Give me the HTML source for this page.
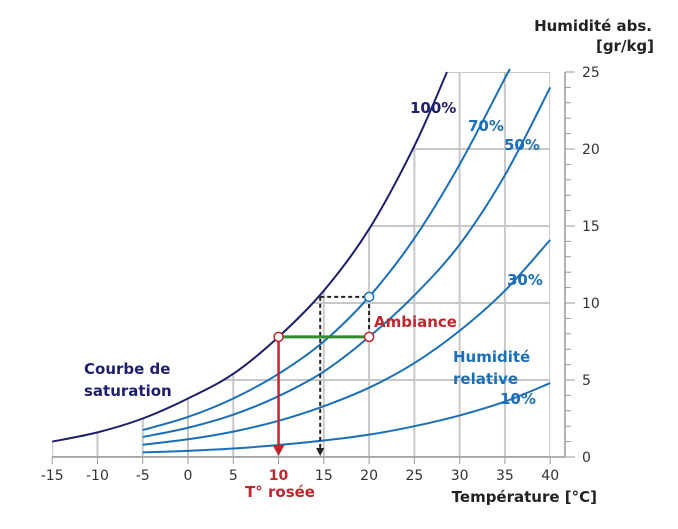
<!DOCTYPE html>
<html><head><meta charset="utf-8"><style>
body{margin:0;background:#fff;}
svg{display:block;font-family:"DejaVu Sans","Liberation Sans",sans-serif;}
</style></head><body>
<svg id="c" width="678" height="529"></svg>
<script>
const satT=[-15,-10,-5,0,5,10,15,20,25,28.6];
const satV=[1.0,1.6,2.5,3.8,5.4,7.8,10.8,14.8,20.2,25];
const rhT=[-5,0,5,10,15,20,25,30,35,40];
const rh70=[1.75,2.6,3.8,5.4,7.5,10.4,14.2,19.0,24.6,null];
const rh50=[1.3,1.9,2.75,3.95,5.55,7.8,10.5,13.8,18.3,24];
const rh30=[0.8,1.15,1.65,2.35,3.3,4.5,6.1,8.2,10.8,14.1];
const rh10=[0.3,0.4,0.55,0.78,1.07,1.45,2.0,2.7,3.6,4.8];
const xTicks=[-15,-10,-5,0,5,10,15,20,25,30,35,40];
const yTicks=[0,5,10,15,20,25];
const dewT=10, ambT=20, ambV=7.8, satAmbV=10.4, satAmbT=14.6;

const X=t=>188+t*9.055, Y=v=>457-v*15.4;
const svg=document.getElementById('c');const NS='http://www.w3.org/2000/svg';
function el(tag,a,name,parent){const e=document.createElementNS(NS,tag);for(const k in a)e.setAttribute(k,a[k]);


(parent||svg).appendChild(e);return e;}
function txt(x,y,s,name,st){const e=el('text',Object.assign({x:x,y:y},st),name);e.textContent=s;return e;}
function smooth(ts,vs){const p=[];ts.forEach((t,i)=>{if(vs[i]!=null)p.push([X(t),Y(vs[i])]);});
let d='M'+p[0][0]+','+p[0][1];for(let i=0;i<p.length-1;i++){const p0=p[Math.max(0,i-1)],p1=p[i],p2=p[i+1],p3=p[Math.min(p.length-1,i+2)];
d+=' C'+(p1[0]+(p2[0]-p0[0])/6)+','+(p1[1]+(p2[1]-p0[1])/6)+' '+(p2[0]-(p3[0]-p1[0])/6)+','+(p2[1]-(p3[1]-p1[1])/6)+' '+p2[0]+','+p2[1];}return d;}
const defs=el('defs',{},'defs');const cp=el('clipPath',{id:'cl'},'grid-clip',defs);
el('path',{d:smooth(satT,satV)+' L'+X(40)+','+Y(25)+' L'+X(40)+','+Y(0)+' L'+X(-15)+','+Y(0)+'Z'},'clip-shape',cp);
const g=el('g',{'clip-path':'url(#cl)'},'grid');
xTicks.forEach(t=>el('line',{x1:X(t),x2:X(t),y1:Y(0),y2:Y(25),stroke:'#c8c8c8','stroke-width':2},'grid-v',g));
yTicks.forEach(v=>el('line',{x1:X(-15),x2:565,y1:Y(v),y2:Y(v),stroke:'#c8c8c8','stroke-width':2},'grid-h',g));
el('line',{x1:X(-15),x2:565,y1:Y(0),y2:Y(0),stroke:'#999','stroke-width':1.5},'x-axis');
el('line',{x1:565,x2:565,y1:Y(0),y2:Y(25),stroke:'#999','stroke-width':1.5},'y-axis');
xTicks.forEach(t=>{el('line',{x1:X(t),x2:X(t),y1:Y(0),y2:Y(0)+7,stroke:'#999'},'x-tick');
 txt(X(t),480,String(t),'x-tick-label',{'text-anchor':'middle','font-size':14,fill:t===dewT?'#c0262d':'#333','font-weight':t===dewT?'bold':'normal'});});
for(let v=0;v<=25;v++)el('line',{x1:565,x2:v%5?571:575,y1:Y(v),y2:Y(v),stroke:'#999'},'y-tick');
yTicks.forEach(v=>txt(582,Y(v)+5,String(v),'y-tick-label',{'font-size':14,fill:'#333'}));
el('path',{d:smooth(satT,satV),fill:'none',stroke:'#1d1f6e','stroke-width':2},'saturation-curve');
[[rh70,'rh-70'],[rh50,'rh-50'],[rh30,'rh-30'],[rh10,'rh-10']].forEach(([a,n])=>{
 let ts=rhT,vs=a;if(n==='rh-70'){ts=rhT.slice(0,9).concat([35.4]);vs=a.slice(0,9).concat([25]);}
 el('path',{d:smooth(ts,vs),fill:'none',stroke:'#1a6fb8','stroke-width':2},n+'-curve');});
el('path',{d:'M'+X(satAmbT)+','+Y(satAmbV)+'H'+X(ambT)+'V'+Y(ambV),fill:'none',stroke:'#222','stroke-width':2,'stroke-dasharray':'4,3'},'dashed-horizontal');
el('line',{x1:X(satAmbT),x2:X(satAmbT),y1:Y(satAmbV),y2:Y(0)-8,stroke:'#222','stroke-width':2,'stroke-dasharray':'4,3'},'dashed-vertical');
el('path',{d:'M'+(X(satAmbT)-4)+','+(Y(0)-9)+'L'+(X(satAmbT)+4)+','+(Y(0)-9)+'L'+X(satAmbT)+','+(Y(0)-1)+'Z',fill:'#222'},'dashed-arrow');
el('line',{x1:X(dewT),x2:X(ambT),y1:Y(ambV),y2:Y(ambV),stroke:'#2e8b2e','stroke-width':3},'green-line');
el('line',{x1:X(dewT),x2:X(dewT),y1:Y(ambV),y2:Y(0)-10,stroke:'#c0262d','stroke-width':2.5},'dew-line');
el('path',{d:'M'+(X(dewT)-6)+','+(Y(0)-12)+'L'+(X(dewT)+6)+','+(Y(0)-12)+'L'+X(dewT)+','+(Y(0)-1)+'Z',fill:'#c0262d'},'dew-arrow');
el('circle',{cx:X(dewT),cy:Y(ambV),r:4.5,fill:'#fff',stroke:'#c0262d','stroke-width':1.5},'dew-point');
el('circle',{cx:X(ambT),cy:Y(ambV),r:4.5,fill:'#fff',stroke:'#c0262d','stroke-width':1.5},'ambiance-point');
el('circle',{cx:X(ambT),cy:Y(satAmbV),r:4.5,fill:'#fff',stroke:'#1a6fb8','stroke-width':1.5},'saturated-point');
const B={'font-size':15,'font-weight':'bold'};
txt(410,113,'100%','label-100',Object.assign({fill:'#1d1f6e'},B));
txt(468,131,'70%','label-70',Object.assign({fill:'#1a6fb8'},B));
txt(504,150,'50%','label-50',Object.assign({fill:'#1a6fb8'},B));
txt(507,285,'30%','label-30',Object.assign({fill:'#1a6fb8'},B));
txt(500,404,'10%','label-10',Object.assign({fill:'#1a6fb8'},B));
txt(453,362,'Humidité','label-humidite',Object.assign({fill:'#1a6fb8'},B));
txt(453,384,'relative','label-relative',Object.assign({fill:'#1a6fb8'},B));
txt(84,374,'Courbe de','label-courbe',Object.assign({fill:'#1d1f6e'},B));
txt(84,396,'saturation','label-saturation',Object.assign({fill:'#1d1f6e'},B));
txt(374,327,'Ambiance','label-ambiance',Object.assign({fill:'#c0262d'},B));
txt(280,497,'T° rosée','label-rosee',Object.assign({fill:'#c0262d','text-anchor':'middle'},B));
txt(597,502,'Température [°C]','x-axis-title',Object.assign({fill:'#222','text-anchor':'end'},B));
txt(652,31,'Humidité abs.','y-axis-title-1',Object.assign({fill:'#222','text-anchor':'end'},B));
txt(625,51,'[gr/kg]','y-axis-title-2',Object.assign({fill:'#222','text-anchor':'middle'},B));
</script>
</body></html>
